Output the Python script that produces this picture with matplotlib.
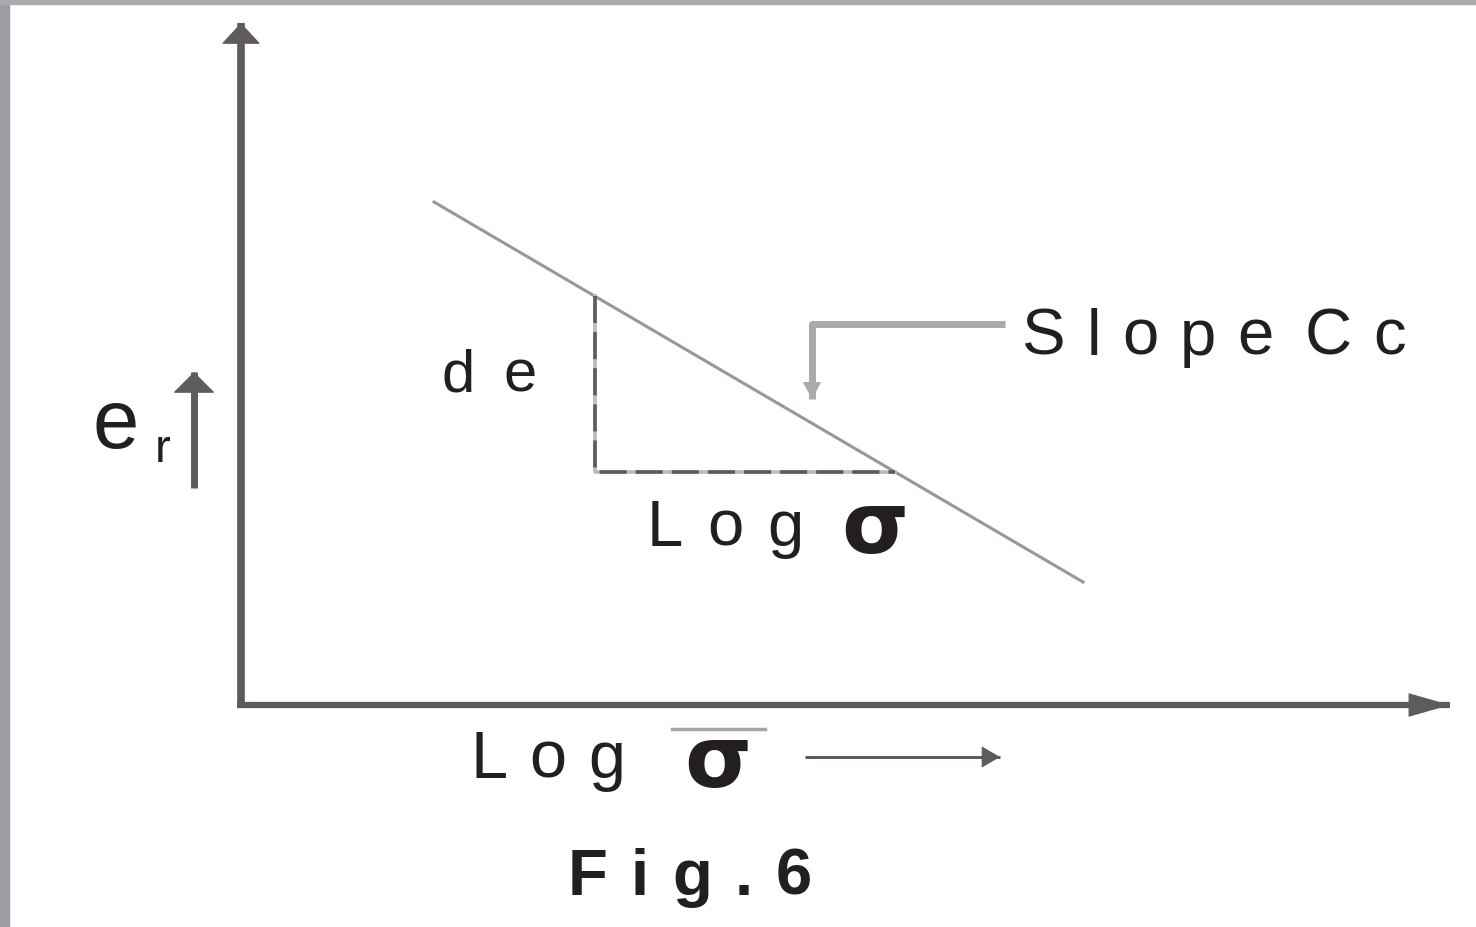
import matplotlib
matplotlib.use('Agg')
import matplotlib.pyplot as plt
from matplotlib.patches import Rectangle

# schematic data (units: 1 = 100 px, origin at the axes corner)
line_logsig = [1.93, 8.42]
line_e = [5.03, 1.23]
tri_x = [3.54, 3.54, 6.54]
tri_y = [4.09, 2.33, 2.33]
call_x = [7.64, 5.71, 5.71]
call_y = [3.81, 3.81, 3.06]
yaxis_top = 6.82
xaxis_end = 12.09

INK = '#231f20'
AXC = '#5f5a5b'

fig = plt.figure(figsize=(14.76, 9.28), dpi=100)
ax = fig.add_axes([0, 0, 1, 1])
ax.set_xlim(-2.41, 12.35)
ax.set_ylim(-2.22, 7.06)
ax.axis('off')

# grey frame bits at the top and left
fig.patches.append(Rectangle((0, 0), 9 / 1476, 1, transform=fig.transFigure, color='#9e9ba3', zorder=0))
fig.patches.append(Rectangle((0, 1 - 5 / 928), 1, 5 / 928, transform=fig.transFigure, color='#aba8b0', zorder=0))

renderer = fig.canvas.get_renderer()


def arrow(xs, ys, lw, color, hl, hw):
    ax.plot(xs, ys, color=color, lw=lw, solid_capstyle='butt')
    ax.annotate('', xy=(xs[-1], ys[-1]), xytext=(xs[-2], ys[-2]),
                arrowprops=dict(arrowstyle='-|>,head_length=%s,head_width=%s' % (hl, hw),
                                color=color, lw=0.8, shrinkA=0, shrinkB=0, mutation_scale=20))


def tracked(s, x0, x1, y, size, weight='normal', family='Liberation Sans', gap=None):
    # spread the letters of s over x0..x1 (wide letter spacing as in the figure)
    texts = [ax.text(0, y, c, fontsize=size, fontweight=weight, family=family,
                     color=INK, va='baseline', ha='left') for c in s]
    widths = [t.get_window_extent(renderer).width / 100 for t in texts]
    if gap is None:
        gap = (x1 - x0 - sum(widths)) / max(len(s) - 1, 1)
    x = x0
    for t, w in zip(texts, widths):
        t.set_x(x)
        x += w + gap
    return gap


# axes
arrow([0, 0, 0], [-0.03, yaxis_top - 0.15, yaxis_top], 5.5, AXC, 0.7, 0.65)
arrow([-0.04, xaxis_end - 0.3, xaxis_end], [0, 0, 0], 4.5, AXC, 1.4, 0.4)

# e-logsigma line and slope triangle
ax.plot(line_logsig, line_e, color='#9b969b', lw=2.2)
ax.plot(tri_x, tri_y, color='#bdb9bd', lw=2.6)
ax.plot(tri_x, tri_y, color=AXC, lw=2.6, dashes=(7.5, 2.5))

# callout to the slope
arrow(call_x, call_y, 5, '#aca8ac', 0.55, 0.3)
g = tracked('Slope', 7.81, 10.32, 3.51, 47)
tracked('Cc', 10.64, None, 3.51, 47, gap=g)
tracked('de', 2.00, 2.96, 3.14, 43)
tracked('Log', 4.06, 5.62, 1.60, 47)
ax.text(6.34, 1.53, 'σ', fontsize=62, fontweight='bold', family='DejaVu Sans',
        color=INK, ha='center', va='baseline')

# y label e_r with arrow
ax.text(-1.25, 2.58, 'e', fontsize=60, family='Liberation Sans', color=INK, ha='center', va='baseline')
ax.text(-0.78, 2.44, 'r', fontsize=34, family='Liberation Sans', color=INK, ha='center', va='baseline')
arrow([-0.47, -0.47, -0.47], [2.17, 3.16, 3.33], 5, AXC, 0.7, 0.7)

# x label
tracked('Log', 2.29, 3.84, -0.72, 48)
ax.text(4.77, -0.81, 'σ', fontsize=62, fontweight='bold', family='DejaVu Sans',
        color=INK, ha='center', va='baseline')
ax.plot([4.31, 5.24], [-0.24, -0.24], color='#a8a4a8', lw=2.5)
arrow([5.64, 7.4, 7.59], [-0.52, -0.52, -0.52], 2.2, AXC, 0.6, 0.35)

tracked('Fig.6', 3.27, 5.71, -1.89, 47, weight='bold')

fig.savefig('out.png', dpi=100)
